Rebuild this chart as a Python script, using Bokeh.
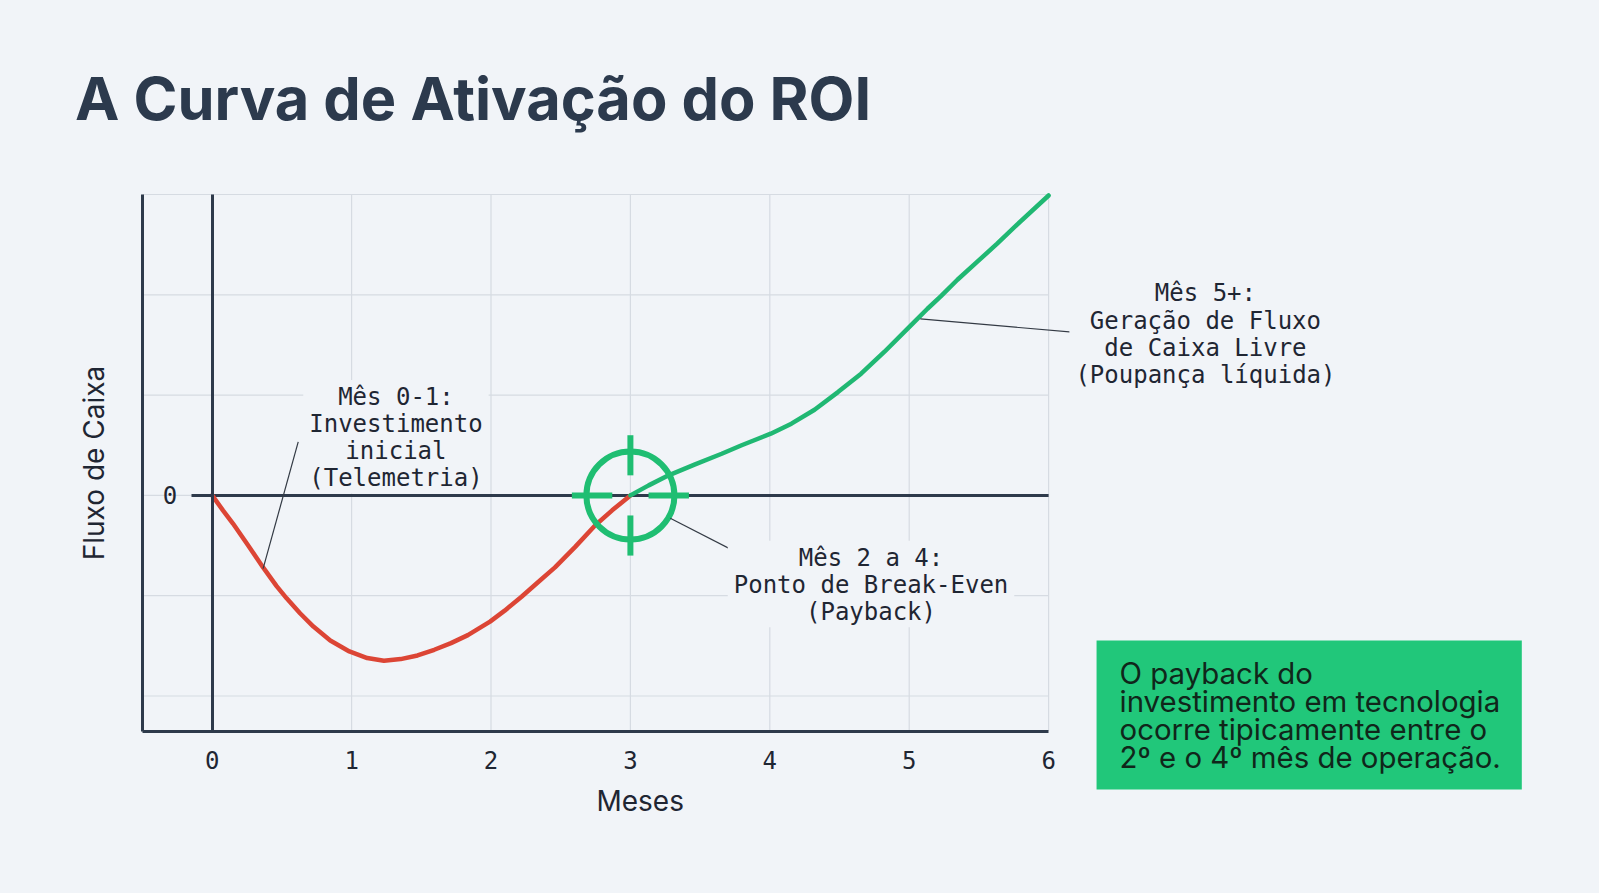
from bokeh.plotting import figure
from bokeh.models import Range1d, FixedTicker, LinearAxis, Label, Arrow
from bokeh.embed import file_html
from bokeh.resources import INLINE

# eixos
meses_ticks = [0, 1, 2, 3, 4, 5, 6]
fluxo_grid = [-2, -1, 0, 1, 2, 3]
x_lim = (-0.5, 6)
y_lim = (-2.35, 3)

# fase de investimento (vermelho)
invest_x = [0, 0.077, 0.149, 0.257, 0.365, 0.462, 0.534, 0.630, 0.726, 0.847, 0.984,
            1.112, 1.232, 1.352, 1.473, 1.593, 1.713, 1.834, 1.993, 2.098, 2.219,
            2.339, 2.459, 2.604, 2.748, 2.869, 3.0]
invest_y = [0, -0.149, -0.281, -0.497, -0.718, -0.904, -1.026, -1.175, -1.308, -1.447, -1.556,
            -1.622, -1.648, -1.632, -1.596, -1.539, -1.473, -1.393, -1.258, -1.149, -1.010,
            -0.864, -0.718, -0.513, -0.298, -0.149, 0]

# fase de retorno (verde)
retorno_x = [3.0, 3.131, 3.274, 3.464, 3.655, 3.798, 4.007, 4.155, 4.321, 4.489, 4.655,
             4.821, 5.012, 5.131, 5.226, 5.346, 5.489, 5.631, 5.774, 6.0]
retorno_y = [0, 0.10, 0.20, 0.309, 0.415, 0.50, 0.615, 0.715, 0.854, 1.03, 1.213,
             1.43, 1.695, 1.861, 1.984, 2.15, 2.33, 2.51, 2.70, 2.99]

breakeven_x = [3]
breakeven_y = [0]
zero_line_x = [0, 6]
zero_line_y = [0, 0]

notas_texto = [
    "Mês 0-1:\nInvestimento\ninicial\n(Telemetria)",
    "Mês 2 a 4:\nPonto de Break-Even\n(Payback)",
    "Mês 5+:\nGeração de Fluxo\nde Caixa Livre\n(Poupança líquida)",
]
notas_x = [1.318, 4.726, 7.125]
notas_y = [0.585, -0.883, 1.617]
# linhas guia: (x0, y0, x1, y1)
guias = [
    (0.617, 0.534, 0.365, -0.73),
    (3.286, -0.227, 3.90, -0.665),
    (5.08, 1.76, 6.211, 1.622),
]

resumo = "O payback do\ninvestimento em tecnologia\nocorre tipicamente entre o\n2º e o 4º mês de operação."

BG = "#f1f4f8"
AX = "#2e3a4b"
TXT = "#1f2633"
RED = "#dc4535"
GREEN = "#20b873"
MONO = "DejaVu Sans Mono"
SANS = "Inter"

# a área de desenho cobre a página toda; os eixos ficam em posições fixas
p = figure(x_range=Range1d(-1.4613, 9.8945), y_range=Range1d(-3.8893, 4.8544),
           width=1583, height=877, min_border=0,
           x_axis_type=None, y_axis_type=None,
           output_backend="svg", toolbar_location=None, tools="")
p.background_fill_color = BG
p.border_fill_color = BG
p.outline_line_color = None

# grade
p.segment(x0=meses_ticks, y0=[y_lim[0]] * len(meses_ticks),
          x1=meses_ticks, y1=[y_lim[1]] * len(meses_ticks),
          line_color="#d6dbe2", line_width=1.2)
p.segment(x0=[x_lim[0]] * len(fluxo_grid), y0=fluxo_grid,
          x1=[x_lim[1]] * len(fluxo_grid), y1=fluxo_grid,
          line_color="#d6dbe2", line_width=1.2)

# eixo x
xaxis = LinearAxis(fixed_location=y_lim[0], bounds=x_lim,
                   ticker=FixedTicker(ticks=meses_ticks),
                   axis_line_width=3, axis_line_color=AX,
                   major_tick_line_color=None, minor_tick_line_color=None,
                   major_label_standoff=14, major_label_text_font=MONO,
                   major_label_text_font_size="24px", major_label_text_color=TXT)
p.add_layout(xaxis, "below")

# eixo y externo (só rótulo)
yaxis = LinearAxis(fixed_location=x_lim[0], bounds=y_lim,
                   ticker=FixedTicker(ticks=[]), axis_label="Fluxo de Caixa",
                   axis_line_width=3, axis_line_color=AX,
                   major_tick_line_color=None, minor_tick_line_color=None,
                   axis_label_text_font=SANS, axis_label_text_font_style="normal",
                   axis_label_text_font_size="28px", axis_label_text_color=TXT,
                   axis_label_standoff=32)
p.add_layout(yaxis, "left")

# eixo vertical no zero
zero_axis = LinearAxis(fixed_location=0, bounds=y_lim, ticker=FixedTicker(ticks=[0]),
                       axis_line_width=3, axis_line_color=AX,
                       major_tick_out=21, major_tick_in=0,
                       major_tick_line_width=3, major_tick_line_color=AX,
                       minor_tick_line_color=None, major_label_standoff=14,
                       major_label_text_font=MONO, major_label_text_font_size="24px",
                       major_label_text_color=TXT)
p.add_layout(zero_axis, "left")

p.line(zero_line_x, zero_line_y, line_width=3, line_color=AX)

# curvas
p.line(invest_x, invest_y, line_width=4.5, line_color=RED, line_cap="round", line_join="round")
p.line(retorno_x, retorno_y, line_width=4.5, line_color=GREEN, line_cap="round", line_join="round")

# mira no break-even
p.scatter(breakeven_x, breakeven_y, marker="circle", size=88, fill_color=None,
          line_color="#1fbe72", line_width=6)
bx, by = breakeven_x[0], breakeven_y[0]
p.segment(x0=[bx, bx, bx - 0.42, bx + 0.13], y0=[by + 0.2, by - 0.2, by, by],
          x1=[bx, bx, bx - 0.13, bx + 0.42], y1=[by + 0.6, by - 0.6, by, by],
          line_color="#1fbe72", line_width=6)

# notas
for (x0, y0, x1, y1) in guias:
    p.add_layout(Arrow(end=None, x_start=x0, y_start=y0, x_end=x1, y_end=y1,
                       line_color="#333a44", line_width=1.2))

for txt, nx, ny in zip(notas_texto, notas_x, notas_y):
    p.add_layout(Label(x=nx, y=ny, text=txt, text_font=MONO, text_font_size="24px",
                       text_color=TXT, text_align="center", text_baseline="middle",
                       text_line_height=0.97, background_fill_color=BG,
                       padding=dict(left=6, right=6, top=3, bottom=1)))

p.add_layout(Label(x=6.344, y=-2.19, text=resumo, text_font=SANS, text_font_size="29.4px",
                   text_color="#10261a", text_align="left", text_baseline="middle",
                   text_line_height=0.8, background_fill_color="#21c77a",
                   padding=dict(left=23, right=21, top=15, bottom=15)))

# rótulo do eixo x
p.add_layout(Label(x=3.07, y=-3.043, text="Meses", text_font=SANS, text_font_size="28px",
                   text_color=TXT, text_align="center", text_baseline="middle"))

# título
p.add_layout(Label(x=-0.985, y=3.962, text="A Curva de Ativação do ROI", text_font=SANS,
                   text_font_style="bold", text_font_size="59.5px", text_color="#2c3a4d",
                   text_align="left", text_baseline="alphabetic"))

html = file_html(p, INLINE, title="A Curva de Ativação do ROI")
html = html.replace("<body>", '<body style="margin:8px;background:%s;">' % BG)
open("out.html", "w").write(html)
